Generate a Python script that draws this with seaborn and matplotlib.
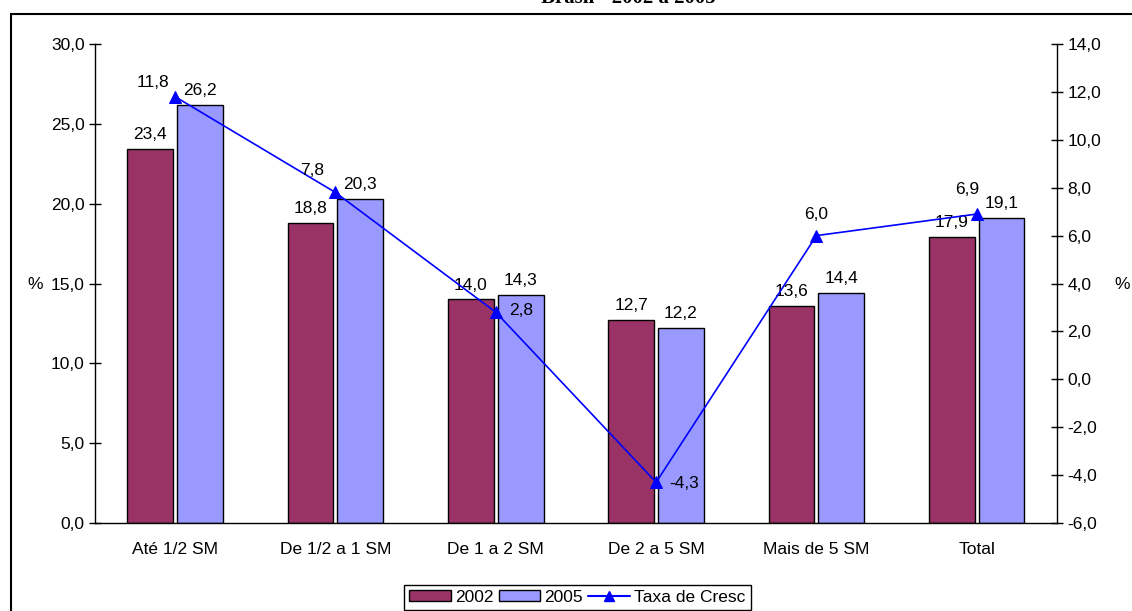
import numpy as np
import pandas as pd
import matplotlib
matplotlib.use("Agg")
import matplotlib.pyplot as plt
from matplotlib.patches import Rectangle, Patch
from matplotlib.lines import Line2D
import seaborn as sns

sns.set_style("white")
plt.rcParams["font.family"] = ["Liberation Sans", "DejaVu Sans"]
plt.rcParams["text.color"] = "black"
plt.rcParams["xtick.color"] = "black"
plt.rcParams["ytick.color"] = "black"

categorias = ["Até 1/2 SM", "De 1/2 a 1 SM", "De 1 a 2 SM", "De 2 a 5 SM", "Mais de 5 SM", "Total"]
v2002 = [23.4, 18.8, 14.0, 12.7, 13.6, 17.9]
v2005 = [26.2, 20.3, 14.3, 12.2, 14.4, 19.1]
taxa = [11.8, 7.8, 2.8, -4.3, 6.0, 6.9]
left_ticks = [0, 5, 10, 15, 20, 25, 30]
right_ticks = [-6, -4, -2, 0, 2, 4, 6, 8, 10, 12, 14]
titulo = "Brasil - 2002 a 2005"

FS = 12.5

def fmt(v):
    return f"{v:.1f}".replace(".", ",")

df = pd.DataFrame({
    "cat": categorias * 2,
    "ano": ["2002"] * 6 + ["2005"] * 6,
    "valor": v2002 + v2005,
})
df_taxa = pd.DataFrame({"pos": np.arange(len(categorias)), "taxa": taxa})

fig = plt.figure(figsize=(11.32, 6.11), dpi=100)
ax = fig.add_axes([0.0839, 0.144, 0.8498, 0.784])

sns.barplot(data=df, x="cat", y="valor", hue="ano", order=categorias,
            palette={"2002": "#993366", "2005": "#9999FF"}, saturation=1,
            width=0.62, gap=0.08, edgecolor="black", linewidth=1.0,
            ax=ax, legend=False)

for cont in ax.containers:
    labels = [fmt(b.get_height()) for b in cont]
    ax.bar_label(cont, labels=labels, padding=5, fontsize=FS, color="black")

ax.set_xlim(-0.5, 5.5)
ax.set_ylim(0, 30)
ax.set_yticks(left_ticks)
ax.set_yticklabels([fmt(t) for t in left_ticks], fontsize=FS)
ax.set_xticks(np.arange(len(categorias)))
ax.set_xticklabels(categorias, fontsize=FS)
ax.set_xticks(np.arange(-0.5, 6.0, 1.0), minor=True)
ax.tick_params(axis="x", which="major", length=0, pad=14)
ax.tick_params(axis="x", which="minor", direction="inout", length=9, width=1)
ax.tick_params(axis="y", direction="inout", length=9, width=1, pad=3)
ax.set_xlabel("")
ax.set_ylabel("")
for s in ["top", "right"]:
    ax.spines[s].set_visible(False)
for s in ["left", "bottom"]:
    ax.spines[s].set_color("black")
    ax.spines[s].set_linewidth(1.0)

ax2 = ax.twinx()
sns.lineplot(data=df_taxa, x="pos", y="taxa", color="#0000FF", marker="^",
             markersize=8, markeredgecolor="#0000FF", linewidth=1.2, ax=ax2)
ax2.set_ylim(-6, 14)
ax2.set_yticks(right_ticks)
ax2.set_yticklabels([fmt(t) for t in right_ticks], fontsize=FS)
ax2.tick_params(axis="y", direction="inout", length=9, width=1, pad=3)
ax2.set_ylabel("")
ax2.set_xlabel("")
ax2.set_xlim(-0.5, 5.5)
for s in ["top", "left", "bottom"]:
    ax2.spines[s].set_visible(False)
ax2.spines["right"].set_color("black")
ax2.spines["right"].set_linewidth(1.0)

offsets = [(-16, 10), (-16.5, 16), (18, 1), (20, -1), (0, 15), (-7, 18)]
for i, (v, off) in enumerate(zip(taxa, offsets)):
    ax2.annotate(fmt(v), (i, v), xytext=off, textcoords="offset points",
                 ha="center", va="center", fontsize=FS, color="black")

fig.text(35 / 1132, 1 - 284 / 611, "%", ha="center", va="center", fontsize=FS)
fig.text(1122 / 1132, 1 - 284 / 611, "%", ha="center", va="center", fontsize=FS)

handles = [
    Patch(facecolor="#993366", edgecolor="black", label="2002"),
    Patch(facecolor="#9999FF", edgecolor="black", label="2005"),
    Line2D([], [], color="#0000FF", marker="^", markersize=7, label="Taxa de Cresc"),
]
fig.legend(handles=handles, loc="center", bbox_to_anchor=(0.51, 0.022), ncol=3,
           frameon=True, fancybox=False, edgecolor="black", fontsize=FS,
           handlelength=2.4, handleheight=0.6, columnspacing=0.3, handletextpad=0.25,
           borderpad=0.3, borderaxespad=0.2, framealpha=1)

fig.patches.append(Rectangle((11 / 1132, -0.05), 1.1, 1.05 - 14 / 611,
                             transform=fig.transFigure, fill=False,
                             edgecolor="black", linewidth=1.5))
fig.text(0.555, 1 - 3 / 611, titulo, ha="center", va="baseline",
         fontsize=15, fontweight="bold", family=["Liberation Serif", "DejaVu Serif"])

fig.savefig("out.png", dpi=100)
